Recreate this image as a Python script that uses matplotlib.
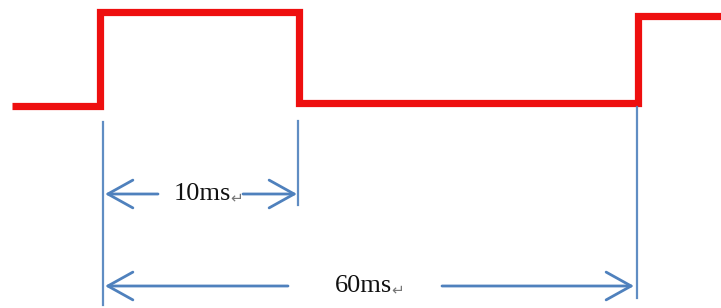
import matplotlib
matplotlib.use("Agg")
import matplotlib.pyplot as plt
from matplotlib.patches import FancyArrowPatch

# waveform (drawing units: x to the right, y downwards like the picture)
wave_start = 12
wave_end = 721
edge_x = [100, 299, 638]
levels = [106, 12, 103, 16]

# blue marker lines dropped from the edges
marker_x = [103, 298, 637]
marker_top = [122, 121, 107]
marker_bottom = [305, 205, 298]

# dimension arrows: from, to, height, label, gap around label
dim_from = [105, 105]
dim_to = [297, 634]
dim_y = [194, 286]
dim_labels = ["10ms", "60ms"]
label_x = [202, 363]
dim_gap = [(158, 243), (288, 442)]

RED = "#ee0f0f"
BLUE = "#4f81bd"

fig = plt.figure(figsize=(7.21, 3.08), dpi=100)
ax = fig.add_axes([0, 0, 1, 1])
ax.set_xlim(0, 721)
ax.set_ylim(308, 0)
ax.axis("off")

# build step waveform from edges and levels
xs = [wave_start]
ys = [levels[0]]
for i, ex in enumerate(edge_x):
    xs += [ex, ex]
    ys += [levels[i], levels[i + 1]]
xs.append(wave_end)
ys.append(levels[-1])
ax.plot(xs, ys, color=RED, lw=5.2, solid_joinstyle="miter", solid_capstyle="butt")

for x, t, b in zip(marker_x, marker_top, marker_bottom):
    ax.plot([x, x], [t, b], color=BLUE, lw=1.6, alpha=0.9)

for x0, x1, y, lab, lx, (g0, g1) in zip(dim_from, dim_to, dim_y, dim_labels, label_x, dim_gap):
    for a, b in [(g0, x0), (g1, x1)]:
        arr = FancyArrowPatch((a, y), (b, y), arrowstyle="->,head_length=18,head_width=10",
                              mutation_scale=1, color=BLUE, lw=2, shrinkA=0, shrinkB=0)
        ax.add_patch(arr)
    t = ax.text(lx, y, lab, family=["Liberation Serif", "DejaVu Serif"],
                fontsize=19, ha="center", va="center", color="#111111")
    ax.annotate("\u21b5", xy=(1, 0.3), xycoords=t, xytext=(0, 0), textcoords="offset points",
                family=["DejaVu Sans"], fontsize=11, color="#777777", ha="left", va="center")

fig.savefig("out.png", dpi=100)
